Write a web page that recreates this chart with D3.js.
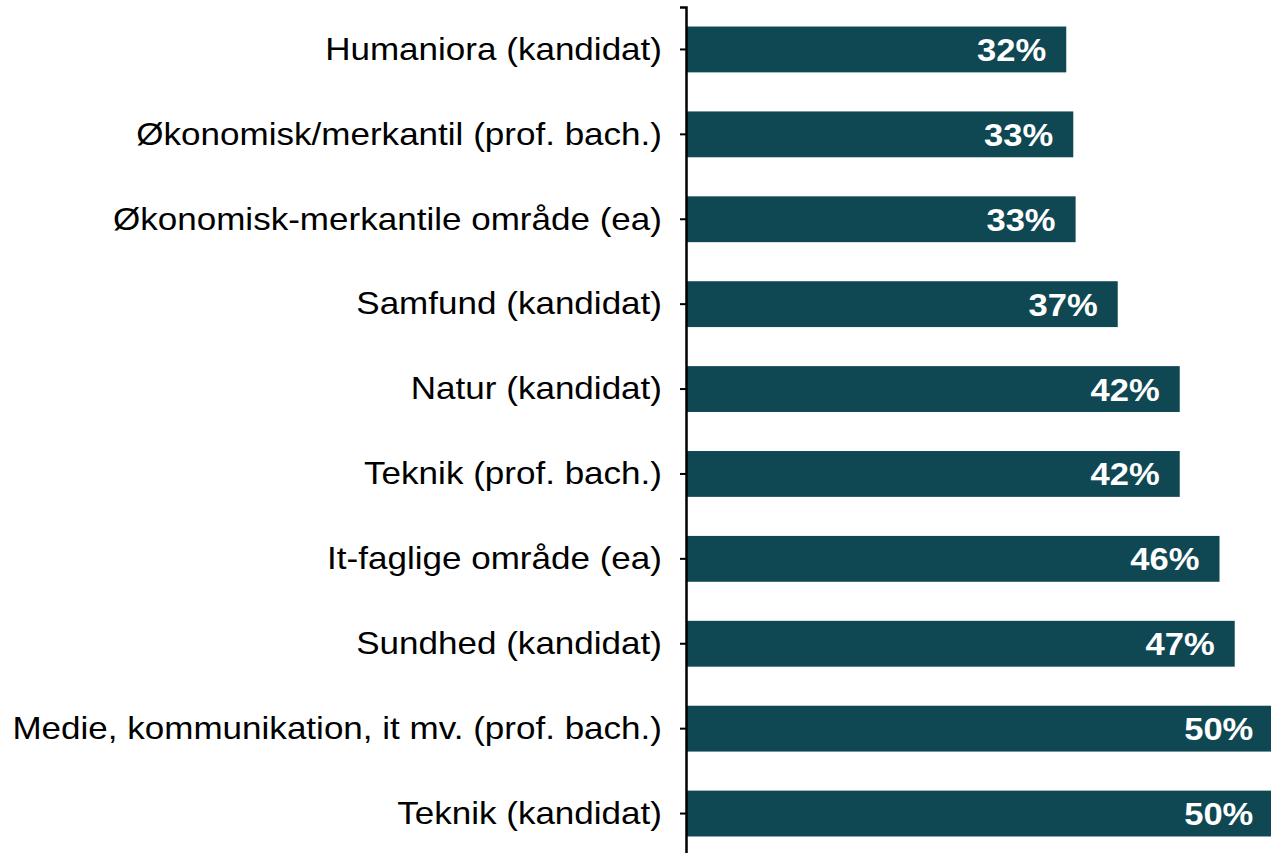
<!DOCTYPE html>
<html>
<head>
<meta charset="utf-8">
<script src="https://cdn.jsdelivr.net/npm/d3@7"></script>
<style>
  body { margin: 0; background: #fff; }
  svg { display: block; }
</style>
</head>
<body>
<svg id="chart"></svg>
<script>
// categories top to bottom and the share
const categories = [
  "Humaniora (kandidat)",
  "Økonomisk/merkantil (prof. bach.)",
  "Økonomisk-merkantile område (ea)",
  "Samfund (kandidat)",
  "Natur (kandidat)",
  "Teknik (prof. bach.)",
  "It-faglige område (ea)",
  "Sundhed (kandidat)",
  "Medie, kommunikation, it mv. (prof. bach.)",
  "Teknik (kandidat)"
];
const values = [0.325, 0.331, 0.333, 0.369, 0.422, 0.422, 0.456, 0.469, 0.502, 0.502];
const labels = ["32%", "33%", "33%", "37%", "42%", "42%", "46%", "47%", "50%", "50%"];

const w = 1271, h = 853;
const margin = { top: 7, left: 686 };
// the source text is a bit wider than plain Arial
const stretch = 1.08;
const catStretch = 1.095;

const svg = d3.select("#chart").attr("width", w).attr("height", h);

const data = categories.map((c, i) => ({ cat: c, value: values[i], label: labels[i] }));

const xScale = d3.scaleLinear()
  .domain([0, 0.5])
  .range([margin.left, 1271]);

const yScale = d3.scaleBand()
  .domain(categories)
  .range([margin.top, margin.top + 10 * 84.9])
  .paddingInner(0.46)
  .paddingOuter(0.23);

// bars
svg.append("g")
  .selectAll("rect")
  .data(data)
  .join("rect")
    .attr("x", xScale(0))
    .attr("y", d => yScale(d.cat))
    .attr("width", d => xScale(d.value) - xScale(0))
    .attr("height", yScale.bandwidth())
    .attr("fill", "#0f4853");

// value labels inside bar ends
svg.append("g")
  .selectAll("text")
  .data(data)
  .join("text")
    .attr("transform", d => `translate(${xScale(d.value) - 20},${yScale(d.cat) + yScale.bandwidth() / 2}) scale(${stretch},1)`)
    .attr("dy", "0.36em")
    .attr("text-anchor", "end")
    .style("font-family", "'Liberation Sans', Arial, sans-serif")
    .style("font-weight", "bold")
    .style("font-size", "32px")
    .attr("fill", "#fff")
    .text(d => d.label);

// category axis
const yAxis = g => g
  .attr("transform", `translate(${margin.left},0)`)
  .call(d3.axisLeft(yScale).tickSize(6).tickSizeOuter(6).tickPadding(18))
  .call(g => g.select(".domain").attr("stroke", "#000").attr("stroke-width", 2.5))
  .call(g => g.selectAll(".tick line").attr("stroke", "#000").attr("stroke-width", 2))
  .call(g => g.selectAll(".tick text")
    .attr("x", null)
    .attr("transform", `translate(-24,0) scale(${catStretch},1)`)
    .style("font-family", "'Liberation Sans', Arial, sans-serif")
    .style("font-size", "32px")
    .attr("fill", "#000"));

svg.append("g").call(yAxis);
</script>
</body>
</html>
